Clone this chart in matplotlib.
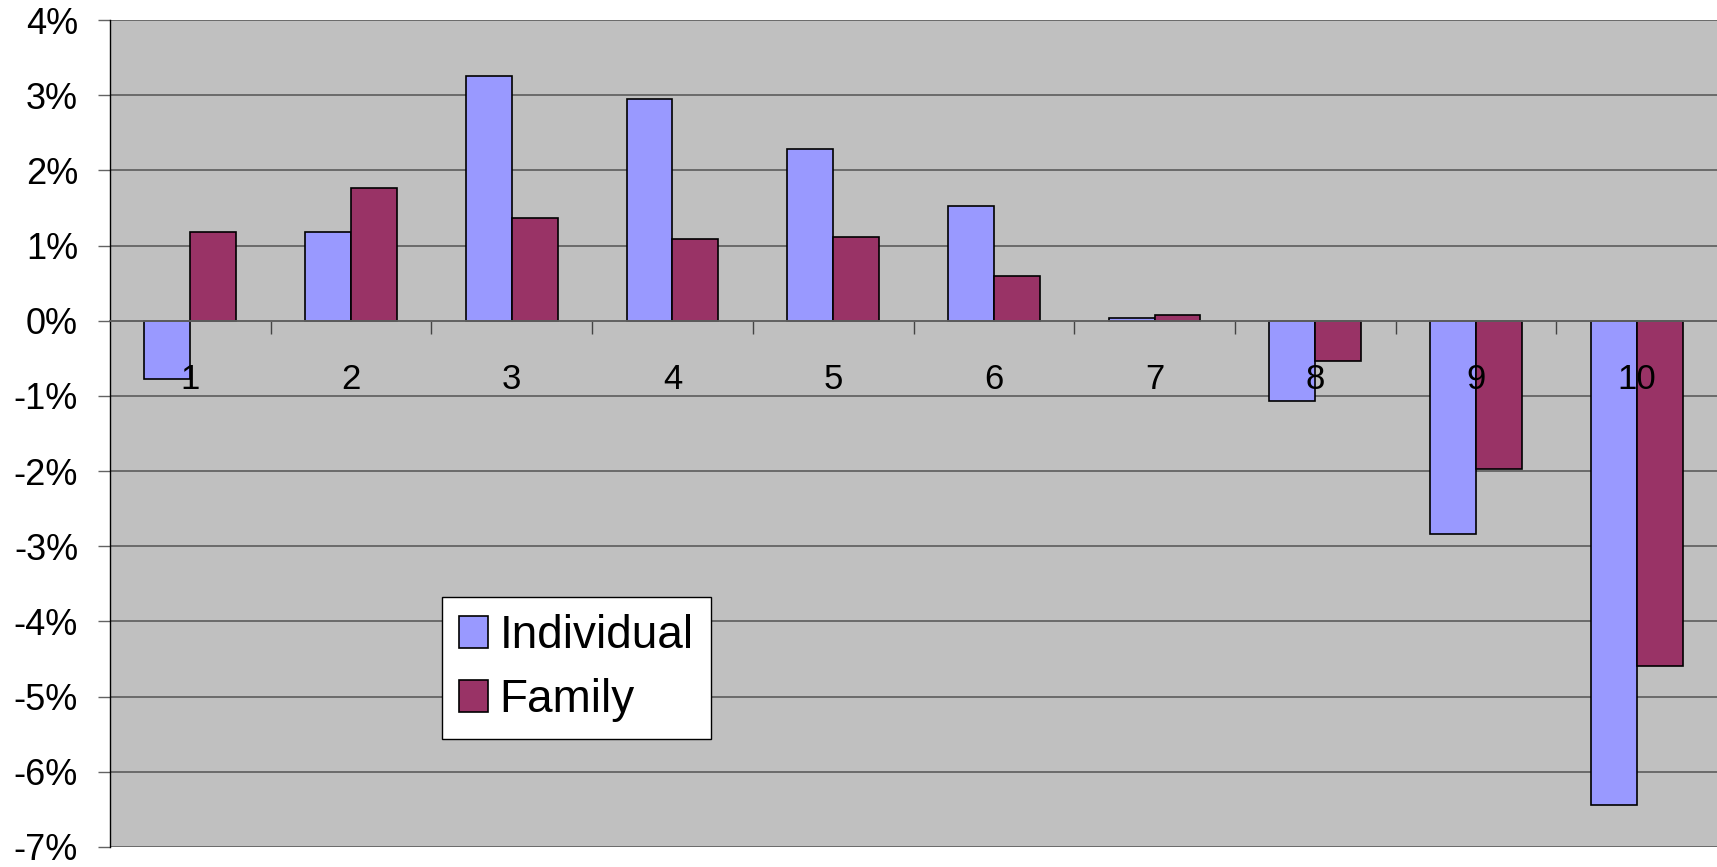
import matplotlib
matplotlib.use('Agg')
import matplotlib.pyplot as plt
import numpy as np
from matplotlib.ticker import FuncFormatter, FixedLocator

# Deciles 1..10, returns in percent
deciles = [1, 2, 3, 4, 5, 6, 7, 8, 9, 10]
individual = [-0.78, 1.18, 3.25, 2.95, 2.28, 1.52, 0.04, -1.07, -2.84, -6.44]
family = [1.18, 1.77, 1.36, 1.09, 1.12, 0.60, 0.07, -0.54, -1.97, -4.59]
series_names = ['Individual', 'Family']
y_ticks = [-7, -6, -5, -4, -3, -2, -1, 0, 1, 2, 3, 4]


def main():
    plt.rcParams['font.family'] = ['Liberation Sans', 'DejaVu Sans']

    fig = plt.figure(figsize=(17.17, 8.67), dpi=100)
    fig.patch.set_facecolor('white')
    ax = fig.add_axes([110 / 1717, 20 / 867, 1 - 110 / 1717, 1 - 40 / 867])
    ax.set_facecolor('#C0C0C0')

    x = np.array(deciles, dtype=float)
    w = 2 / 7
    ax.bar(x - w / 2, individual, width=w, color='#9999FF', edgecolor='black',
           linewidth=1.2, label=series_names[0], zorder=2)
    ax.bar(x + w / 2, family, width=w, color='#993366', edgecolor='black',
           linewidth=1.2, label=series_names[1], zorder=2)

    ax.set_xlim(0.5, 10.5)
    ax.set_ylim(y_ticks[0], y_ticks[-1])

    # horizontal gridlines behind the bars
    ax.set_axisbelow(True)
    ax.yaxis.set_major_locator(FixedLocator(y_ticks))
    ax.yaxis.set_major_formatter(FuncFormatter(lambda v, p: f'{v:.0f}%'))
    ax.grid(axis='y', color='#636363', linewidth=1.3)
    ax.tick_params(axis='y', length=9, width=1, direction='out', pad=14,
                   labelsize=26, colors='black')
    ax.tick_params(axis='y', color='#636363')

    # category axis sits on the zero line, ticks between categories
    ax.spines['bottom'].set_position(('data', 0))
    ax.spines['bottom'].set_color('#636363')
    ax.spines['bottom'].set_linewidth(1.3)
    ax.xaxis.set_major_locator(FixedLocator(x))
    ax.xaxis.set_minor_locator(FixedLocator(x[:-1] + 0.5))
    ax.tick_params(axis='x', which='major', length=0, labelbottom=False)
    ax.tick_params(axis='x', which='minor', length=9.5, width=1, direction='out',
                   color='#444444')
    for c in deciles:
        ax.annotate(str(c), xy=(c, 0), xytext=(0, -42), textcoords='offset points',
                    ha='center', va='center', fontsize=25, zorder=5)

    for s in ['top', 'right']:
        ax.spines[s].set_visible(False)
    ax.spines['left'].set_color('black')
    ax.spines['left'].set_linewidth(1.0)

    leg = ax.legend(loc='upper left', bbox_to_anchor=(442 / 1717, 1 - 597 / 867),
                    bbox_transform=fig.transFigure, borderaxespad=0,
                    fontsize=33, fancybox=False, framealpha=1, edgecolor='black',
                    handlelength=0.62, handleheight=0.7, handletextpad=0.25,
                    labelspacing=0.42, borderpad=0.38)
    leg.get_frame().set_linewidth(1.0)

    fig.savefig('out.png', dpi=100)


if __name__ == '__main__':
    main()
